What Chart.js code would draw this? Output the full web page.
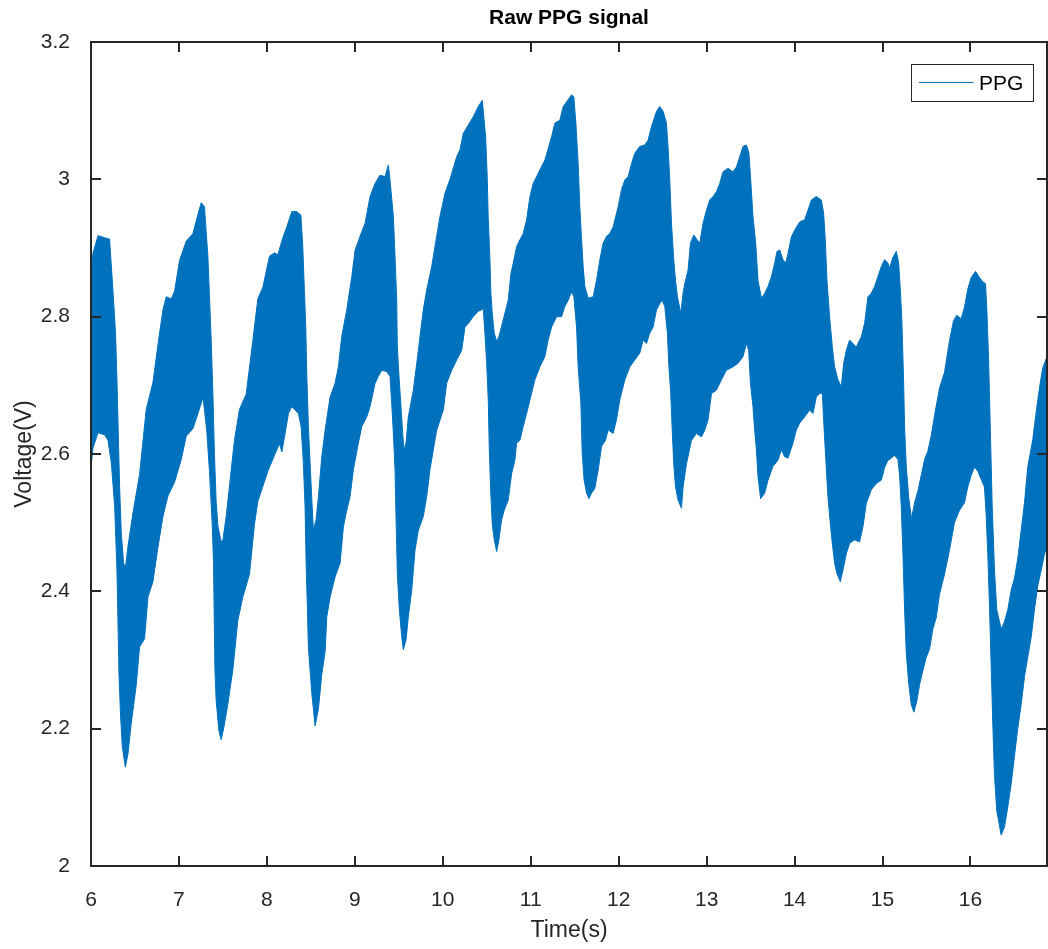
<!DOCTYPE html>
<html>
<head>
<meta charset="utf-8">
<title>Raw PPG signal</title>
<script src="https://cdn.jsdelivr.net/npm/chart.js@4.4.1/dist/chart.umd.min.js"></script>
<style>
  html, body { margin: 0; padding: 0; background: #fff; }
  canvas { display: block; }
</style>
</head>
<body>
<canvas id="ppgChart" width="1048" height="949"></canvas>
<script>
// the raw trace oscillates so fast that it prints as a solid band,
// so it is kept as its upper and lower envelope
const upperTime = [
  6.000, 6.023, 6.080, 6.154, 6.211, 6.250, 6.279, 6.295, 6.310, 6.325, 6.344, 6.370, 6.390, 6.420,
  6.477, 6.552, 6.628, 6.704, 6.761, 6.818, 6.855, 6.912, 6.950, 7.007, 7.083, 7.159, 7.216, 7.253,
  7.290, 7.329, 7.367, 7.386, 7.404, 7.423, 7.443, 7.480, 7.500, 7.537, 7.631, 7.688, 7.764, 7.840,
  7.897, 7.954, 8.029, 8.086, 8.124, 8.181, 8.227, 8.283, 8.340, 8.386, 8.408, 8.423, 8.442, 8.454,
  8.472, 8.491, 8.511, 8.529, 8.559, 8.586, 8.624, 8.662, 8.719, 8.775, 8.813, 8.851, 8.908, 8.965,
  9.003, 9.059, 9.116, 9.173, 9.230, 9.286, 9.343, 9.381, 9.400, 9.438, 9.457, 9.476, 9.483, 9.502,
  9.522, 9.544, 9.559, 9.582, 9.608, 9.665, 9.704, 9.741, 9.778, 9.817, 9.874, 9.911, 9.968, 10.025,
  10.082, 10.158, 10.195, 10.233, 10.346, 10.403, 10.449, 10.487, 10.505, 10.516, 10.536, 10.547,
  10.562, 10.585, 10.612, 10.638, 10.687, 10.744, 10.775, 10.801, 10.839, 10.877, 10.914, 10.953,
  10.991, 11.028, 11.067, 11.104, 11.161, 11.237, 11.275, 11.331, 11.369, 11.426, 11.464, 11.490,
  11.513, 11.539, 11.558, 11.578, 11.596, 11.615, 11.653, 11.710, 11.748, 11.786, 11.823, 11.862,
  11.899, 11.937, 11.994, 12.032, 12.070, 12.107, 12.146, 12.183, 12.240, 12.297, 12.334, 12.373,
  12.430, 12.467, 12.505, 12.543, 12.561, 12.581, 12.600, 12.626, 12.646, 12.668, 12.706, 12.732,
  12.751, 12.789, 12.816, 12.854, 12.891, 12.922, 12.959, 12.998, 13.035, 13.073, 13.111, 13.149,
  13.186, 13.243, 13.300, 13.339, 13.376, 13.414, 13.452, 13.481, 13.501, 13.527, 13.558, 13.584,
  13.623, 13.660, 13.698, 13.736, 13.774, 13.800, 13.831, 13.868, 13.899, 13.925, 13.963, 14.001,
  14.058, 14.114, 14.152, 14.191, 14.247, 14.304, 14.330, 14.349, 14.368, 14.398, 14.429, 14.455,
  14.493, 14.531, 14.558, 14.588, 14.626, 14.663, 14.702, 14.759, 14.796, 14.834, 14.872, 14.910,
  14.947, 14.986, 15.023, 15.061, 15.080, 15.117, 15.156, 15.182, 15.202, 15.220, 15.239, 15.251,
  15.270, 15.299, 15.330, 15.364, 15.402, 15.440, 15.478, 15.515, 15.554, 15.591, 15.648, 15.705,
  15.761, 15.807, 15.844, 15.894, 15.932, 15.969, 16.008, 16.057, 16.102, 16.140, 16.171, 16.186,
  16.205, 16.224, 16.247, 16.273, 16.299, 16.349, 16.387, 16.424, 16.463, 16.500, 16.538, 16.576,
  16.614, 16.651, 16.708, 16.747, 16.784, 16.821, 16.870
];
const upperVolt = [
  2.868, 2.893, 2.918, 2.915, 2.913, 2.837, 2.776, 2.709, 2.631, 2.553, 2.486, 2.442, 2.433, 2.465,
  2.514, 2.570, 2.665, 2.704, 2.759, 2.810, 2.829, 2.826, 2.837, 2.882, 2.910, 2.921, 2.949, 2.966,
  2.960, 2.888, 2.765, 2.687, 2.598, 2.531, 2.495, 2.472, 2.475, 2.509, 2.620, 2.665, 2.687, 2.765,
  2.826, 2.843, 2.888, 2.893, 2.890, 2.915, 2.931, 2.953, 2.953, 2.948, 2.902, 2.849, 2.785, 2.713,
  2.640, 2.586, 2.533, 2.489, 2.504, 2.538, 2.596, 2.635, 2.683, 2.703, 2.727, 2.771, 2.810, 2.858,
  2.897, 2.917, 2.936, 2.975, 2.994, 3.006, 3.004, 3.021, 2.999, 2.946, 2.887, 2.824, 2.756, 2.713,
  2.674, 2.630, 2.606, 2.616, 2.654, 2.693, 2.732, 2.771, 2.810, 2.839, 2.873, 2.902, 2.946, 2.980,
  3.000, 3.033, 3.043, 3.067, 3.091, 3.106, 3.115, 3.062, 3.004, 2.946, 2.883, 2.834,
  2.805, 2.776, 2.764, 2.771, 2.795, 2.824, 2.863, 2.878, 2.902, 2.912, 2.921, 2.941,
  2.975, 2.994, 3.004, 3.014, 3.028, 3.062, 3.082, 3.086, 3.106, 3.116, 3.123, 3.120,
  3.082, 3.023, 2.960, 2.912, 2.873, 2.844, 2.827, 2.829, 2.853, 2.883, 2.907, 2.917,
  2.921, 2.931, 2.960, 2.985, 2.999, 3.004, 3.023, 3.038, 3.048, 3.050, 3.057, 3.077,
  3.099, 3.106, 3.099, 3.082, 3.048, 2.999, 2.936, 2.883, 2.853, 2.829, 2.805, 2.834,
  2.848, 2.868, 2.907, 2.919, 2.912, 2.907, 2.936, 2.955, 2.970, 2.975, 2.982, 2.994,
  3.011, 3.016, 3.011, 3.018, 3.033, 3.048, 3.050, 3.038, 2.999, 2.946, 2.907, 2.853,
  2.827, 2.834, 2.844, 2.858, 2.878, 2.895, 2.897, 2.883, 2.878, 2.892, 2.916, 2.926,
  2.938, 2.941, 2.955, 2.970, 2.975, 2.970, 2.951, 2.912, 2.853, 2.800, 2.756, 2.727,
  2.708, 2.698, 2.732, 2.751, 2.766, 2.761, 2.756, 2.771, 2.790, 2.829, 2.834, 2.844,
  2.858, 2.873, 2.883, 2.878, 2.871, 2.886, 2.895, 2.880, 2.840, 2.794, 2.708, 2.638,
  2.581, 2.535, 2.506, 2.529, 2.546, 2.569, 2.592, 2.604, 2.627, 2.656, 2.696, 2.719,
  2.765, 2.794, 2.802, 2.797, 2.814, 2.840, 2.857, 2.866, 2.857, 2.851, 2.848, 2.811,
  2.742, 2.644, 2.523, 2.431, 2.373, 2.345, 2.356, 2.373, 2.402, 2.419, 2.448, 2.489,
  2.529, 2.581, 2.621, 2.661, 2.696, 2.725, 2.742
];

const lowerTime = [
  6.000, 6.023, 6.080, 6.154, 6.193, 6.231, 6.268, 6.295, 6.318, 6.336, 6.356, 6.390, 6.420, 6.458,
  6.515, 6.552, 6.609, 6.648, 6.704, 6.761, 6.818, 6.875, 6.950, 7.026, 7.083, 7.159, 7.216, 7.272,
  7.290, 7.318, 7.347, 7.378, 7.393, 7.409, 7.423, 7.454, 7.480, 7.511, 7.556, 7.613, 7.670, 7.727,
  7.802, 7.859, 7.897, 7.954, 8.011, 8.086, 8.143, 8.170, 8.207, 8.245, 8.283, 8.321, 8.358, 8.389,
  8.415, 8.434, 8.446, 8.461, 8.472, 8.511, 8.548, 8.586, 8.624, 8.662, 8.681, 8.719, 8.775, 8.832,
  8.870, 8.908, 8.946, 8.983, 9.040, 9.079, 9.135, 9.173, 9.230, 9.267, 9.306, 9.363, 9.400, 9.419,
  9.438, 9.457, 9.468, 9.483, 9.506, 9.533, 9.551, 9.582, 9.608, 9.647, 9.684, 9.722, 9.778, 9.817,
  9.854, 9.892, 9.931, 10.006, 10.044, 10.101, 10.158, 10.215, 10.252, 10.290, 10.346, 10.403,
  10.442, 10.460, 10.479, 10.499, 10.517, 10.528, 10.544, 10.562, 10.585, 10.612, 10.638, 10.669,
  10.698, 10.744, 10.783, 10.820, 10.839, 10.877, 10.914, 10.953, 10.991, 11.047, 11.104, 11.161,
  11.198, 11.237, 11.294, 11.351, 11.388, 11.426, 11.464, 11.490, 11.521, 11.539, 11.570, 11.585,
  11.607, 11.635, 11.661, 11.691, 11.729, 11.767, 11.805, 11.850, 11.880, 11.937, 11.975, 12.013,
  12.070, 12.127, 12.183, 12.240, 12.278, 12.316, 12.353, 12.391, 12.430, 12.467, 12.493, 12.524,
  12.554, 12.569, 12.592, 12.607, 12.626, 12.646, 12.675, 12.714, 12.732, 12.771, 12.828, 12.884,
  12.941, 12.979, 13.017, 13.055, 13.111, 13.168, 13.225, 13.300, 13.357, 13.414, 13.452, 13.478,
  13.498, 13.527, 13.546, 13.566, 13.584, 13.614, 13.660, 13.698, 13.754, 13.811, 13.850, 13.887,
  13.925, 13.982, 14.020, 14.058, 14.114, 14.171, 14.209, 14.247, 14.285, 14.316, 14.330, 14.349,
  14.379, 14.406, 14.429, 14.455, 14.481, 14.520, 14.550, 14.588, 14.626, 14.682, 14.739, 14.777,
  14.815, 14.872, 14.929, 14.986, 15.023, 15.061, 15.080, 15.137, 15.175, 15.194, 15.213, 15.232,
  15.251, 15.270, 15.299, 15.327, 15.356, 15.391, 15.421, 15.452, 15.497, 15.535, 15.572, 15.611,
  15.648, 15.705, 15.761, 15.818, 15.875, 15.932, 15.969, 16.008, 16.046, 16.083, 16.122, 16.159,
  16.178, 16.197, 16.216, 16.235, 16.254, 16.273, 16.299, 16.349, 16.387, 16.424, 16.463, 16.500,
  16.538, 16.576, 16.614, 16.651, 16.690, 16.727, 16.765, 16.804, 16.841, 16.870
];
const lowerVolt = [
  2.581, 2.609, 2.631, 2.628, 2.620, 2.587, 2.526, 2.431, 2.280, 2.219, 2.174, 2.144, 2.163, 2.208,
  2.264, 2.319, 2.331, 2.392, 2.414, 2.464, 2.509, 2.539, 2.559, 2.592, 2.626, 2.637, 2.659, 2.682,
  2.665, 2.631, 2.575, 2.498, 2.442, 2.286, 2.241, 2.197, 2.184, 2.202, 2.236, 2.286, 2.358, 2.392,
  2.425, 2.498, 2.531, 2.553, 2.575, 2.598, 2.615, 2.603, 2.630, 2.659, 2.669, 2.664, 2.659, 2.640,
  2.586, 2.523, 2.441, 2.373, 2.318, 2.251, 2.204, 2.229, 2.279, 2.312, 2.363, 2.392, 2.421, 2.441,
  2.494, 2.518, 2.538, 2.577, 2.616, 2.640, 2.654, 2.669, 2.703, 2.713, 2.722, 2.720, 2.713, 2.674,
  2.630, 2.577, 2.509, 2.426, 2.373, 2.334, 2.315, 2.329, 2.363, 2.402, 2.460, 2.489, 2.509, 2.538,
  2.577, 2.606, 2.635, 2.664, 2.703, 2.722, 2.737, 2.751, 2.785, 2.790, 2.800, 2.808,
  2.810, 2.812, 2.776, 2.732, 2.679, 2.611, 2.548, 2.499, 2.475, 2.458, 2.475, 2.504,
  2.518, 2.533, 2.572, 2.591, 2.616, 2.620, 2.640, 2.659, 2.679, 2.708, 2.727, 2.742,
  2.766, 2.785, 2.800, 2.800, 2.815, 2.824, 2.836, 2.829, 2.785, 2.727, 2.674, 2.601,
  2.562, 2.543, 2.535, 2.543, 2.550, 2.577, 2.611, 2.620, 2.635, 2.630, 2.650, 2.679,
  2.708, 2.727, 2.737, 2.747, 2.766, 2.761, 2.776, 2.785, 2.810, 2.819, 2.824, 2.815,
  2.776, 2.732, 2.688, 2.640, 2.586, 2.552, 2.533, 2.521, 2.552, 2.586, 2.620, 2.630,
  2.625, 2.635, 2.650, 2.688, 2.693, 2.708, 2.722, 2.727, 2.732, 2.742, 2.761, 2.751,
  2.703, 2.669, 2.635, 2.606, 2.567, 2.535, 2.543, 2.562, 2.582, 2.591, 2.606, 2.596,
  2.594, 2.616, 2.635, 2.645, 2.654, 2.664, 2.659, 2.683, 2.688, 2.688, 2.650, 2.606,
  2.538, 2.499, 2.470, 2.441, 2.426, 2.414, 2.431, 2.455, 2.470, 2.475, 2.472, 2.494,
  2.528, 2.548, 2.557, 2.562, 2.580, 2.591, 2.592, 2.598, 2.592, 2.569, 2.523, 2.454,
  2.373, 2.310, 2.264, 2.235, 2.224, 2.241, 2.264, 2.281, 2.304, 2.316, 2.345, 2.362,
  2.396, 2.425, 2.460, 2.500, 2.518, 2.529, 2.552, 2.569, 2.581, 2.575, 2.563, 2.552,
  2.512, 2.454, 2.379, 2.293, 2.206, 2.132, 2.080, 2.045, 2.057, 2.086, 2.120, 2.160,
  2.201, 2.235, 2.276, 2.304, 2.333, 2.373, 2.408, 2.431, 2.454, 2.466
];

const xTicks = [6, 7, 8, 9, 10, 11, 12, 13, 14, 15, 16];
const yTicks = [2, 2.2, 2.4, 2.6, 2.8, 3, 3.2];

const matlabBlue = '#0072BD';
const axisColor = '#262626';
const fontFamily = '"Liberation Sans", Arial, Helvetica, sans-serif';

Chart.defaults.font.family = fontFamily;

function toPoints(times, volts) {
  return times.map((t, i) => ({ x: t, y: volts[i] }));
}

// matlab style box with inward ticks on all four sides
const boxAxes = {
  id: 'boxAxes',
  afterDatasetsDraw(chart) {
    const { ctx, chartArea: a, scales } = chart;
    const len = 10;
    ctx.save();
    ctx.strokeStyle = axisColor;
    ctx.lineWidth = 2;
    ctx.beginPath();
    xTicks.forEach(v => {
      const px = Math.round(scales.x.getPixelForValue(v));
      ctx.moveTo(px, a.bottom);
      ctx.lineTo(px, a.bottom - len);
      ctx.moveTo(px, a.top);
      ctx.lineTo(px, a.top + len);
    });
    yTicks.forEach(v => {
      const py = Math.round(scales.y.getPixelForValue(v));
      ctx.moveTo(a.left, py);
      ctx.lineTo(a.left + len, py);
      ctx.moveTo(a.right, py);
      ctx.lineTo(a.right - len, py);
    });
    ctx.stroke();
    ctx.strokeRect(a.left, a.top, a.right - a.left, a.bottom - a.top);
    ctx.restore();
  }
};

// legend box in the upper right corner of the axes
const cornerLegend = {
  id: 'cornerLegend',
  afterDraw(chart) {
    const { ctx, chartArea: a } = chart;
    const w = 122, h = 37;
    const x = a.right - 13.5 - w;
    const y = a.top + 22.5;
    ctx.save();
    ctx.fillStyle = '#fff';
    ctx.fillRect(x, y, w, h);
    ctx.strokeStyle = axisColor;
    ctx.lineWidth = 1;
    ctx.strokeRect(x, y, w, h);
    ctx.strokeStyle = matlabBlue;
    ctx.lineWidth = 1;
    ctx.beginPath();
    ctx.moveTo(x + 7.5, y + h / 2 - 0.5);
    ctx.lineTo(x + 62, y + h / 2 - 0.5);
    ctx.stroke();
    ctx.fillStyle = '#000';
    ctx.font = '21px ' + fontFamily;
    ctx.textBaseline = 'middle';
    ctx.textAlign = 'left';
    ctx.fillText(chart.data.datasets[0].label, x + 67.5, y + h / 2 + 1);
    ctx.restore();
  }
};

const ctx = document.getElementById('ppgChart').getContext('2d');
new Chart(ctx, {
  type: 'line',
  data: {
    datasets: [
      {
        label: 'PPG',
        data: toPoints(upperTime, upperVolt),
        borderColor: matlabBlue,
        backgroundColor: matlabBlue,
        borderWidth: 1,
        pointRadius: 0,
        tension: 0,
        fill: false
      },
      {
        label: 'PPG lower',
        data: toPoints(lowerTime, lowerVolt),
        borderColor: matlabBlue,
        backgroundColor: matlabBlue,
        borderWidth: 1,
        pointRadius: 0,
        tension: 0,
        fill: '-1'
      }
    ]
  },
  options: {
    responsive: false,
    animation: false,
    events: [],
    layout: { padding: { left: 0, right: 1, top: 0, bottom: 0 } },
    plugins: {
      legend: { display: false },
      tooltip: { enabled: false },
      title: {
        display: true,
        text: 'Raw PPG signal',
        fullSize: false,
        color: '#000',
        font: { size: 21, weight: 'bold' },
        padding: { top: 6, bottom: 10.8 }
      }
    },
    scales: {
      x: {
        type: 'linear',
        min: 6,
        max: 16.87,
        grid: { display: false },
        border: { display: false },
        ticks: {
          includeBounds: false,
          autoSkip: false,
          maxRotation: 0,
          padding: 14,
          color: axisColor,
          font: { size: 21 },
          callback: v => String(v)
        },
        afterBuildTicks: s => { s.ticks = xTicks.map(v => ({ value: v })); },
        afterFit: s => { s.height = 83; },
        title: {
          display: true,
          text: 'Time(s)',
          color: axisColor,
          font: { size: 23 },
          padding: { top: 0, bottom: 5 }
        }
      },
      y: {
        type: 'linear',
        min: 2,
        max: 3.2,
        grid: { display: false },
        border: { display: false },
        ticks: {
          autoSkip: false,
          padding: 13,
          color: axisColor,
          font: { size: 21 },
          callback: v => String(v)
        },
        afterBuildTicks: s => { s.ticks = yTicks.map(v => ({ value: v })); },
        afterFit: s => { s.width = 91; },
        title: {
          display: true,
          text: 'Voltage(V)',
          color: axisColor,
          font: { size: 23 },
          padding: { top: 11, bottom: 0 }
        }
      }
    }
  },
  plugins: [boxAxes, cornerLegend]
});
</script>
</body>
</html>
